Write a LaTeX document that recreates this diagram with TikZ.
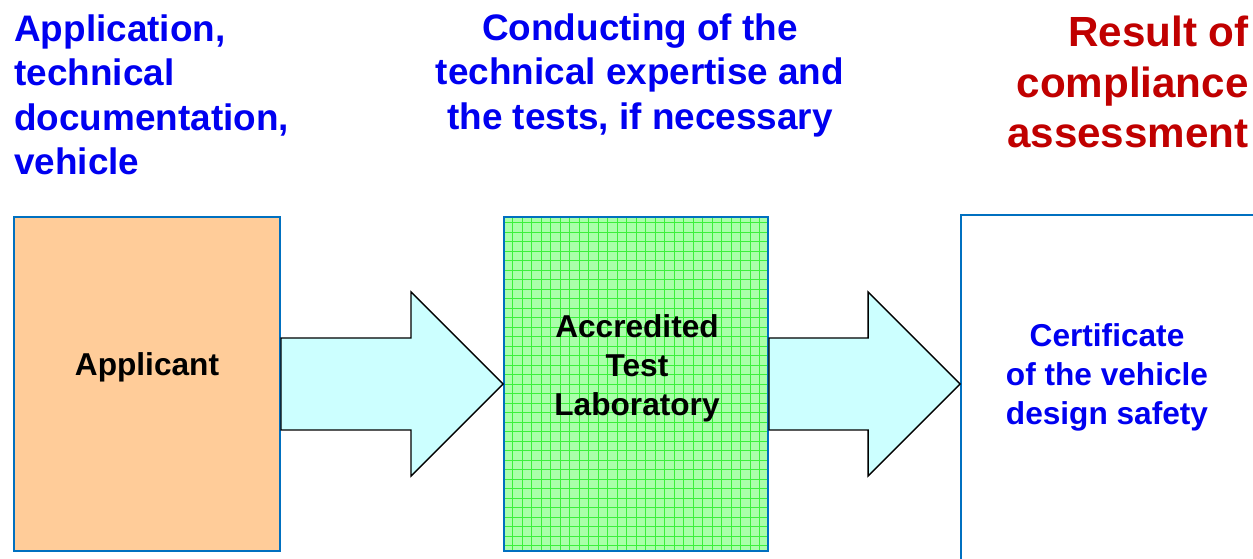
\documentclass[tikz,border=0pt]{standalone}
\usepackage{fontspec}
\setmainfont{Liberation Sans}
\usetikzlibrary{calc}

\begin{document}
\begin{tikzpicture}[
    box/.style={shape=rectangle,draw=flow_border,line width=1.1pt,minimum height=6.68cm},
    blockarrow/.style={draw=black,line width=0.8pt,fill=flow_arrow,line join=miter},
    boxtext/.style={font=\fontsize{18}{22.2}\selectfont\bfseries,align=center,inner sep=0pt},
    headtext/.style={font=\fontsize{21}{25.3}\selectfont\bfseries,text=flow_head,inner sep=0pt}
  ]
    \definecolor{flow_border}{RGB}{0,112,192}
    \definecolor{flow_app}{RGB}{255,204,153}
    \definecolor{flow_lab}{RGB}{170,255,170}
    \definecolor{flow_grid}{RGB}{60,240,60}
    \definecolor{flow_arrow}{RGB}{204,255,255}
    \definecolor{flow_head}{RGB}{0,0,240}
    \definecolor{flow_result}{RGB}{192,0,0}
    \clip (0,0) rectangle (25.06,11.18);
    \node[box,fill=flow_app,minimum width=5.32cm] (app) at (2.94,3.5) {};
    \node[box,fill=flow_lab,minimum width=5.28cm,path picture={\draw[flow_grid,line width=0.3pt,step=0.19cm] (path picture bounding box.south west) grid (path picture bounding box.north east);}] (lab) at (12.72,3.5) {};
    \node[box,fill=white,minimum width=6.2cm,minimum height=7.4cm] (cert) at (22.32,3.18) {};
    \coordinate (tip2) at (cert.west |- lab.east);
    \draw[blockarrow] ($(app.east)+(0,0.92)$) -- ($(lab.west)+(-1.84,0.92)$) -- ++(0,0.92) -- (lab.west) -- ++(-1.84,-1.84) -- ++(0,0.92) -- ($(app.east)+(0,-0.92)$) -- cycle;
    \draw[blockarrow] ($(lab.east)+(0,0.92)$) -- ($(tip2)+(-1.84,0.92)$) -- ++(0,0.92) -- (tip2) -- ++(-1.84,-1.84) -- ++(0,0.92) -- ($(lab.east)+(0,-0.92)$) -- cycle;
    \node[boxtext] (applabel) at (2.94,3.84) {Applicant};
    \node[boxtext] (lablabel) at (12.74,3.82) {Accredited\\Test\\Laboratory};
    \node[boxtext,text=flow_head] (certlabel) at (22.14,3.64) {Certificate\\of the vehicle\\design safety};
    \node[headtext,anchor=north west,align=left] (inhead) at (0.28,10.9) {Application,\\technical\\documentation,\\vehicle};
    \node[headtext,anchor=north,align=center] (testhead) at (12.8,10.92) {Conducting of the\\technical expertise and\\the tests, if necessary};
    \node[headtext,anchor=north east,align=right,text=flow_result,font=\fontsize{24}{28.6}\selectfont\bfseries] (resulthead) at (24.98,10.86) {Result of\\compliance\\assessment};
\end{tikzpicture}
\end{document}
